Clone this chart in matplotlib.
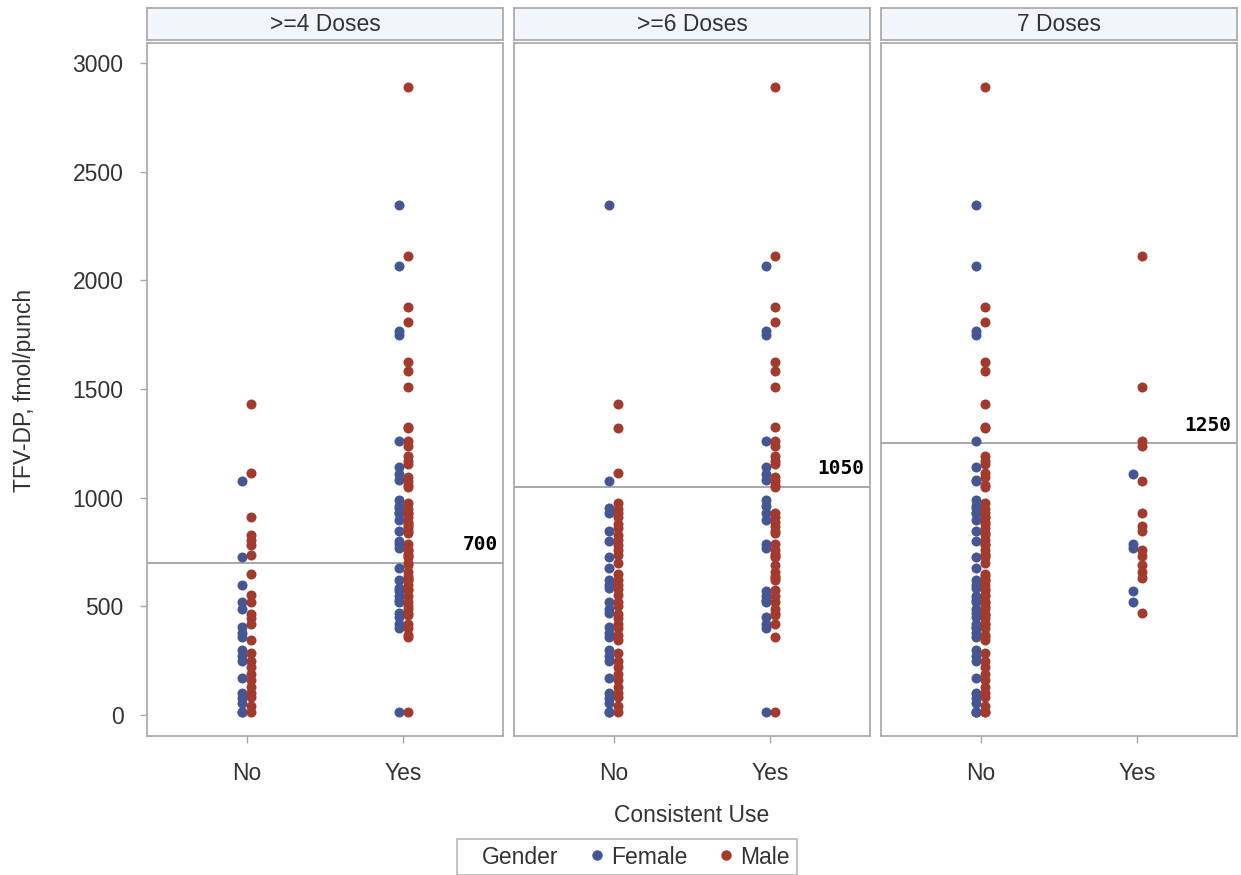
import matplotlib
matplotlib.use("Agg")
import matplotlib.pyplot as plt
from matplotlib.lines import Line2D
import numpy as np

# TFV-DP values (fmol/punch) split by number of doses taken and gender
dose_groups = ["<4", "4-5", "6", "7"]
group_doses = [3, 5, 6, 7]

female_lt4 = [1075, 727, 597, 520, 490, 406, 380, 360, 299, 270, 250, 170, 101, 80, 55, 15, 15]
male_lt4 = [1433, 1113, 911, 827, 804, 781, 735, 648, 551, 520, 467, 445, 421, 345, 285,
            250, 220, 190, 160, 130, 100, 83, 40, 15]
female_45 = [2345, 955, 930, 845, 800, 675, 620, 585, 470]
male_45 = [1320, 975, 950, 930, 880, 860, 760, 700, 620, 600, 580, 500, 400, 370]
female_6 = [2067, 1765, 1750, 1259, 1141, 1080, 988, 960, 930, 896, 550, 530, 452, 420, 400, 15]
male_6 = [2890, 1876, 1810, 1623, 1582, 1324, 1190, 1170, 1157, 1095, 1060, 1049, 910, 890,
          836, 789, 740, 726, 640, 620, 574, 550, 520, 490, 460, 421, 360, 15]
female_7 = [1110, 785, 770, 570, 520]
male_7 = [2110, 1508, 1260, 1240, 1075, 930, 870, 845, 760, 730, 690, 660, 630, 470]

female_groups = [female_lt4, female_45, female_6, female_7]
male_groups = [male_lt4, male_45, male_6, male_7]

panel_titles = [">=4 Doses", ">=6 Doses", "7 Doses"]
panel_thresholds = [4, 6, 7]
ref_values = [700, 1050, 1250]
categories = ["No", "Yes"]
yticks = [0, 500, 1000, 1500, 2000, 2500, 3000]

female_color = "#445694"
male_color = "#A23A2E"
frame_color = "#A6A6A6"
text_color = "#333333"

plt.rcParams['font.family'] = ['Liberation Sans', 'DejaVu Sans']
fs = 16.5

W, H = 1241, 875
fig = plt.figure(figsize=(W / 100, H / 100), dpi=100)


def box(x0, y0, x1, y1):
    # pixel box (top-left origin) -> figure fraction rect
    return [x0 / W, (H - y1) / H, (x1 - x0) / W, (y1 - y0) / H]


panel_x = [(147, 503), (514, 870), (881, 1237)]
offset = 0.029

for i, (x0, x1) in enumerate(panel_x):
    ax = fig.add_axes(box(x0, 43, x1, 736))
    t = panel_thresholds[i]
    for cat in range(2):
        fvals, mvals = [], []
        for d, fg, mg in zip(group_doses, female_groups, male_groups):
            if (d >= t) == (cat == 1):
                fvals += fg
                mvals += mg
        ax.scatter(np.full(len(fvals), cat - offset), fvals, s=52, color=female_color,
                   linewidths=0, zorder=3)
        ax.scatter(np.full(len(mvals), cat + offset), mvals, s=52, color=male_color,
                   linewidths=0, zorder=3)
    ax.axhline(ref_values[i], color="#9A9A9A", lw=1.2, zorder=2)
    ax.text(0.985, ref_values[i] + 40, str(ref_values[i]), transform=ax.get_yaxis_transform(),
            ha="right", va="bottom", fontsize=14, fontweight="bold",
            family="DejaVu Sans Mono", color="black")
    ax.set_xlim(-0.64, 1.64)
    ax.set_ylim(-96, 3092)
    ax.set_xticks([0, 1])
    ax.set_xticklabels(categories)
    ax.set_yticks(yticks)
    ax.tick_params(axis="both", direction="out", length=5, width=1, color=frame_color,
                   labelsize=fs, labelcolor=text_color)
    ax.tick_params(axis="x", pad=14)
    ax.tick_params(axis="y", pad=12)
    if i > 0:
        ax.tick_params(axis="y", left=False, labelleft=False)
    for sp in ax.spines.values():
        sp.set_color(frame_color)
        sp.set_linewidth(1.2)

    # header strip
    hx = fig.add_axes(box(x0, 8, x1, 40))
    hx.set_facecolor("#F3F5FC")
    hx.set_xticks([])
    hx.set_yticks([])
    for sp in hx.spines.values():
        sp.set_color(frame_color)
        sp.set_linewidth(1.2)
    hx.text(0.5, 0.47, panel_titles[i], ha="center", va="center", fontsize=fs,
            color=text_color, transform=hx.transAxes)

fig.text(25 / W, 1 - 390 / H, "TFV-DP, fmol/punch", rotation=90, ha="center", va="center",
         fontsize=fs, color=text_color)
fig.text(692 / W, 1 - 815 / H, "Consistent Use", ha="center", va="center",
         fontsize=fs, color=text_color)

handles = [Line2D([], [], linestyle="none"),
           Line2D([], [], linestyle="none", marker="o", markersize=7.5,
                  markerfacecolor=female_color, markeredgewidth=0),
           Line2D([], [], linestyle="none", marker="o", markersize=7.5,
                  markerfacecolor=male_color, markeredgewidth=0)]
leg = fig.legend(handles, ["Gender", "Female", "Male"], ncol=3, loc="center",
                 bbox_to_anchor=(627 / W, 1 - 857 / H), frameon=True, fancybox=False,
                 fontsize=fs, handlelength=0.3, handletextpad=0.5, columnspacing=1.5,
                 borderpad=0.3, borderaxespad=0)
leg.get_frame().set_edgecolor(frame_color)
leg.get_frame().set_linewidth(1.2)
for txt in leg.get_texts():
    txt.set_color(text_color)

fig.savefig("out.png", dpi=100, facecolor="white")
